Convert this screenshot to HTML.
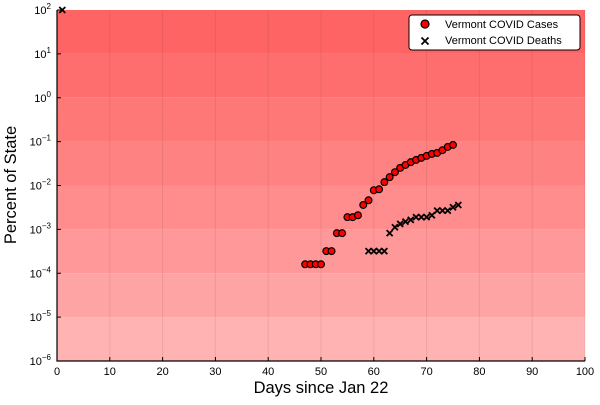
<!DOCTYPE html>
<html><head><meta charset="utf-8"><style>
body{margin:0;background:#fff;font-family:"Liberation Sans",sans-serif;}
svg text{font-family:"Liberation Sans",sans-serif;}
</style></head><body>
<svg id="chart" width="600" height="400" xmlns="http://www.w3.org/2000/svg">
<g id="bands"></g><g id="grid"></g><g id="axes"></g><g id="marks"></g>
<g>
<rect x="409" y="15" width="171" height="35" rx="3" fill="#fff" stroke="#000" stroke-width="1"/>
<circle cx="425" cy="24" r="4" fill="#f00" stroke="#000" stroke-width="1.2"/>
<text x="445" y="28" font-size="11">Vermont COVID Cases</text>
<path d="M421.5,37.5l7,7M428.5,37.5l-7,7" stroke="#000" stroke-width="1.8"/>
<text x="445" y="44" font-size="11">Vermont COVID Deaths</text>
</g>
<text x="321" y="393" font-size="16.5" text-anchor="middle">Days since Jan 22</text>
<text transform="translate(16,185) rotate(-90)" font-size="16.5" text-anchor="middle">Percent of State</text>
</svg>
<script>
const caseDays=[47,48,49,50,51,52,53,54,55,56,57,58,59,60,61,62,63,64,65,66,67,68,69,70,71,72,73,74,75];
const caseVals=[1.6e-4,1.6e-4,1.6e-4,1.6e-4,3.2e-4,3.2e-4,8.2e-4,8.2e-4,1.9e-3,1.9e-3,2.1e-3,3.6e-3,4.6e-3,7.8e-3,8.2e-3,0.0119,0.0155,0.0201,0.0252,0.0294,0.034,0.0383,0.0426,0.0472,0.0525,0.0553,0.0637,0.0757,0.0841];
const deathDays=[1,59,60,61,62,63,64,65,66,67,68,69,70,71,72,73,74,75,76];
const deathVals=[100,3.2e-4,3.2e-4,3.2e-4,3.2e-4,8.2e-4,1.12e-3,1.33e-3,1.5e-3,1.65e-3,1.9e-3,1.9e-3,1.9e-3,2.1e-3,2.68e-3,2.68e-3,2.68e-3,3.2e-3,3.6e-3];
const xTicks=[0,10,20,30,40,50,60,70,80,90,100];
const yExps=[-6,-5,-4,-3,-2,-1,0,1,2];
const bandColors=["#ffb3b3","#ffa4a4","#ff9898","#ff8d8d","#ff8282","#ff7878","#ff6e6e","#ff6464"];
const L=57,R=585,T=10,B=361;
const X=d=>L+(d-0)/(100)*(R-L);
const Y=v=>B-(Math.log10(v)+6)/8*(B-T);
const NS="http://www.w3.org/2000/svg";
function mk(tag,attrs,parent){const e=document.createElementNS(NS,tag);for(const k in attrs)e.setAttribute(k,attrs[k]);document.getElementById(parent).appendChild(e);return e;}
for(let i=0;i<8;i++){const y1=Y(Math.pow(10,i-5)),y0=Y(Math.pow(10,i-6));
const r=mk('rect',{x:L,y:y1,width:R-L,height:y0-y1,fill:bandColors[i]},'bands');

}
xTicks.forEach(t=>{const l=mk('line',{x1:X(t),x2:X(t),y1:T,y2:B,stroke:'#000','stroke-opacity':0.08},'grid');


const tk=mk('line',{x1:X(t),x2:X(t),y1:B,y2:B-4,stroke:'#000'},'axes');


const tx=mk('text',{x:X(t),y:B+14,'font-size':11,'text-anchor':'middle'},'axes');tx.textContent=t;

});
yExps.forEach(e=>{const y=Y(Math.pow(10,e));
const tk=mk('line',{x1:L,x2:L+4,y1:y,y2:y,stroke:'#000'},'axes');


const tx=mk('text',{x:L-6,y:y+4,'font-size':11,'text-anchor':'end'},'axes');
tx.innerHTML='10<tspan font-size="8" dy="-5">'+(e<0?'\u2212'+(-e):e)+'</tspan>';

});
const ax=mk('path',{d:`M${L},${T}V${B}H${R}`,fill:'none',stroke:'#000','stroke-width':1.2},'axes');


caseDays.forEach((d,i)=>{const c=mk('circle',{cx:X(d),cy:Y(caseVals[i]),r:3.4,fill:'#f00',stroke:'#000','stroke-width':1.2},'marks');

});
deathDays.forEach((d,i)=>{const x=X(d),y=Y(deathVals[i]);
const p=mk('path',{d:`M${x-3},${y-3}l6,6M${x+3},${y-3}l-6,6`,stroke:'#000','stroke-width':1.8},'marks');

});
</script>
</body></html>
